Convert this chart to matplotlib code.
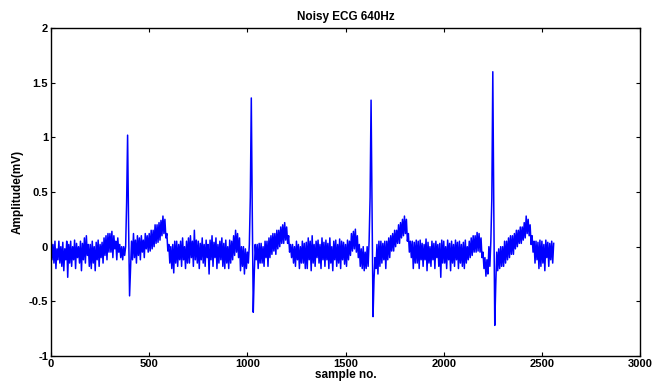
import numpy as np
import matplotlib
matplotlib.use("Agg")
import matplotlib.pyplot as plt

plt.rcParams['font.family'] = ['Liberation Sans', 'DejaVu Sans']

# ECG amplitude (mV).
# upper_mv: readings at samples 0, 10, 20, ... (top of the noise band)
# lower_mv: readings at samples 5, 15, 25, ... (bottom of the noise band)
sample_step = 5
upper_mv = [
    0.10, 0.02, 0.05, -0.02, 0.05, 0.00, 0.04, -0.02, 0.05, 0.02,
    0.05, 0.00, 0.06, 0.03, 0.00, 0.05, 0.03, 0.08, 0.10, 0.02,
    0.02, 0.05, 0.00, 0.04, 0.06, 0.02, 0.04, 0.08, 0.10, 0.12,
    0.12, 0.14, 0.10, 0.05, 0.08, 0.02, 0.00, 0.00, 0.00, 1.02,
    -0.45, 0.05, 0.12, 0.06, 0.10, 0.08, 0.10, 0.06, 0.12, 0.10,
    0.12, 0.15, 0.15, 0.20, 0.20, 0.22, 0.24, 0.28, 0.25, 0.12,
    0.02, 0.00, 0.02, 0.05, 0.05, 0.02, 0.05, 0.08, 0.00, 0.05,
    0.08, 0.10, 0.05, 0.15, 0.06, 0.05, 0.03, 0.08, 0.02, 0.06,
    0.02, 0.06, 0.10, 0.04, 0.08, 0.02, 0.05, 0.08, 0.03, 0.06,
    0.00, 0.06, 0.05, 0.10, 0.15, 0.12, 0.08, 0.00, 0.00, -0.02,
    -0.05, 0.02, 1.36, -0.60, 0.02, 0.02, 0.03, 0.03, 0.00, 0.05,
    0.05, 0.08, 0.10, 0.12, 0.12, 0.15, 0.15, 0.18, 0.20, 0.22,
    0.18, 0.10, 0.02, 0.02, 0.00, 0.05, 0.02, 0.00, 0.05, 0.03,
    0.04, 0.08, 0.05, 0.10, 0.02, 0.05, 0.06, 0.02, 0.08, 0.04,
    0.06, 0.03, 0.08, 0.00, 0.05, 0.06, 0.02, 0.07, 0.05, 0.04,
    0.02, 0.06, 0.05, 0.12, 0.14, 0.16, 0.10, 0.02, -0.02, 0.00,
    -0.05, 0.00, 0.05, 1.34, -0.64, -0.10, 0.02, 0.05, 0.05, 0.03,
    0.05, 0.05, 0.08, 0.10, 0.12, 0.15, 0.15, 0.20, 0.22, 0.25,
    0.28, 0.25, 0.12, 0.05, 0.05, 0.04, 0.06, 0.05, 0.06, 0.03,
    0.02, 0.07, 0.04, 0.00, 0.05, 0.03, 0.05, 0.02, 0.03, 0.06,
    0.05, 0.00, 0.06, 0.03, 0.05, 0.02, 0.06, 0.04, 0.05, 0.02,
    0.04, 0.06, 0.00, 0.05, 0.08, 0.10, 0.10, 0.13, 0.12, 0.08,
    -0.05, -0.10, -0.12, 0.00, 0.05, 1.60, -0.72, -0.05, -0.02, 0.00,
    0.00, 0.05, 0.05, 0.08, 0.10, 0.10, 0.12, 0.15, 0.15, 0.18,
    0.18, 0.22, 0.28, 0.25, 0.20, 0.10, 0.05, 0.05, 0.04, 0.06,
    0.05, 0.02, 0.06, 0.04, 0.03, 0.05, 0.03,
]
lower_mv = [
    -0.12, -0.15, -0.20, -0.12, -0.15, -0.18, -0.22, -0.12, -0.28, -0.15,
    -0.18, -0.12, -0.20, -0.10, -0.15, -0.22, -0.12, -0.15, -0.08, -0.18,
    -0.20, -0.15, -0.22, -0.12, -0.18, -0.10, -0.15, -0.08, -0.12, -0.05,
    -0.05, -0.10, -0.02, -0.12, -0.05, -0.10, -0.12, -0.08, 0.40, 0.20,
    -0.20, -0.12, -0.10, -0.15, -0.08, -0.12, -0.05, -0.10, -0.02, -0.05,
    -0.04, -0.02, 0.00, 0.03, 0.04, 0.06, 0.10, 0.12, 0.08, -0.04,
    -0.15, -0.20, -0.24, -0.15, -0.18, -0.12, -0.18, -0.12, -0.20, -0.15,
    -0.15, -0.10, -0.18, -0.12, -0.15, -0.20, -0.12, -0.15, -0.18, -0.10,
    -0.25, -0.12, -0.18, -0.10, -0.20, -0.15, -0.12, -0.18, -0.20, -0.15,
    -0.20, -0.15, -0.12, -0.08, -0.05, -0.10, -0.22, -0.18, -0.25, -0.20,
    -0.15, 0.45, 0.30, -0.25, -0.12, -0.20, -0.15, -0.15, -0.18, -0.10,
    -0.18, -0.10, -0.07, -0.04, -0.07, -0.02, 0.00, 0.03, 0.03, 0.06,
    0.03, -0.05, -0.10, -0.15, -0.18, -0.12, -0.20, -0.15, -0.15, -0.20,
    -0.20, -0.12, -0.22, -0.15, -0.18, -0.10, -0.15, -0.20, -0.12, -0.18,
    -0.12, -0.20, -0.15, -0.22, -0.12, -0.18, -0.15, -0.20, -0.12, -0.16,
    -0.18, -0.12, -0.08, -0.04, -0.02, -0.05, -0.10, -0.18, -0.20, -0.22,
    -0.20, -0.18, 0.45, 0.30, -0.30, -0.20, -0.25, -0.18, -0.15, -0.12,
    -0.20, -0.12, -0.10, -0.04, -0.04, 0.00, 0.03, 0.03, 0.08, 0.10,
    0.12, 0.05, -0.05, -0.10, -0.20, -0.15, -0.15, -0.20, -0.12, -0.18,
    -0.12, -0.22, -0.15, -0.18, -0.12, -0.20, -0.10, -0.18, -0.28, -0.15,
    -0.15, -0.20, -0.12, -0.22, -0.15, -0.18, -0.12, -0.20, -0.15, -0.18,
    -0.20, -0.15, -0.12, -0.10, -0.08, -0.05, -0.05, -0.04, -0.05, -0.10,
    -0.20, -0.27, -0.25, -0.18, 0.44, 0.35, -0.35, -0.22, -0.20, -0.18,
    -0.18, -0.15, -0.12, -0.10, -0.07, -0.07, -0.02, 0.00, 0.03, 0.03,
    0.06, 0.08, 0.12, 0.10, 0.02, -0.05, -0.15, -0.12, -0.20, -0.18,
    -0.15, -0.22, -0.10, -0.18, -0.12, -0.15,
]

amplitude_mv = np.empty(len(upper_mv) + len(lower_mv))
amplitude_mv[0::2] = upper_mv
amplitude_mv[1::2] = lower_mv
sample_no = np.arange(len(amplitude_mv)) * sample_step

x_ticks = [0, 500, 1000, 1500, 2000, 2500, 3000]
y_ticks = [-1, -0.5, 0, 0.5, 1, 1.5, 2]
y_tick_labels = ['-1', '-0.5', '0', '0.5', '1', '1.5', '2']

fig = plt.figure(figsize=(6.55, 3.91), dpi=100)
ax = fig.add_axes([0.0779, 0.0895, 0.8993, 0.8389])
ax.plot(sample_no, amplitude_mv, color=(0, 0, 1), linewidth=1.1)

ax.set_xlim(0, 3000)
ax.set_ylim(-1, 2)
ax.set_xticks(x_ticks)
ax.set_yticks(y_ticks)
ax.set_yticklabels(y_tick_labels)
ax.tick_params(direction='in', length=3, width=0.8, top=True, right=True,
               labelsize=8, pad=2, colors='black')
for lbl in ax.get_xticklabels() + ax.get_yticklabels():
    lbl.set_fontweight('bold')
for sp in ax.spines.values():
    sp.set_linewidth(1.0)
    sp.set_color('black')

ax.set_title('Noisy ECG 640Hz', fontsize=8.5, fontweight='bold', pad=6)
ax.set_xlabel('sample no.', fontsize=8.5, fontweight='bold', labelpad=0)
ax.set_ylabel('Amplitude(mV)', fontsize=8.5, fontweight='bold', labelpad=4)

fig.savefig('out.png', dpi=100)
